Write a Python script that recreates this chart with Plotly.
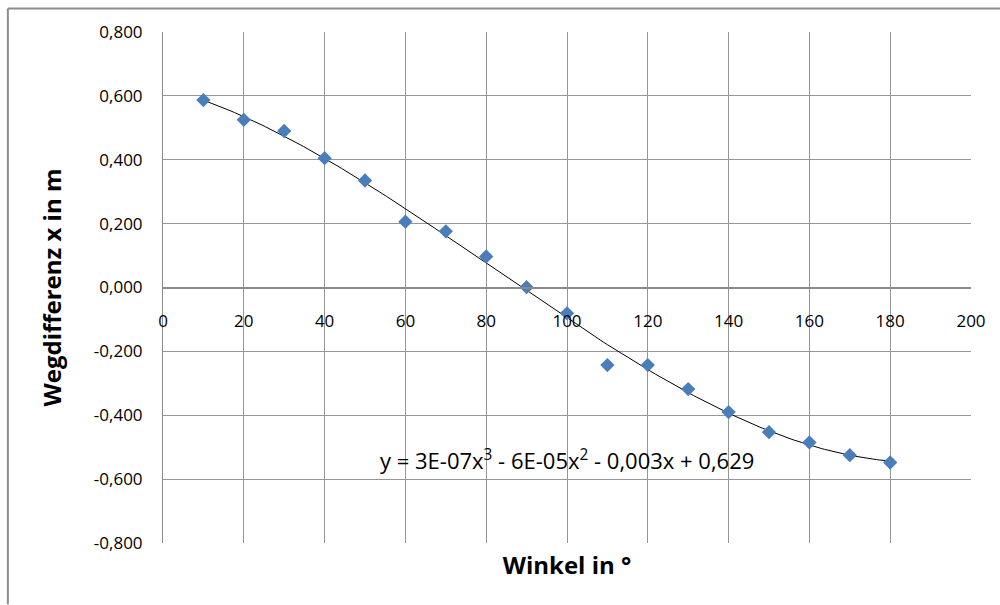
import numpy as np
import plotly.graph_objects as go

# Data
angles = [10, 20, 30, 40, 50, 60, 70, 80, 90, 100, 110, 120, 130, 140, 150, 160, 170, 180]
path_diff = [0.587, 0.525, 0.490, 0.405, 0.335, 0.206, 0.176, 0.097, 0.001, -0.081,
             -0.243, -0.243, -0.318, -0.390, -0.453, -0.485, -0.525, -0.548]

x_ticks = [0, 20, 40, 60, 80, 100, 120, 140, 160, 180, 200]
y_ticks = [0.8, 0.6, 0.4, 0.2, 0.0, -0.2, -0.4, -0.6, -0.8]
y_tick_labels = ["0,800", "0,600", "0,400", "0,200", "0,000", "-0,200", "-0,400", "-0,600", "-0,800"]

equation_text = "y = 3E-07x<sup>3</sup> - 6E-05x<sup>2</sup> - 0,003x + 0,629"
x_title = "Winkel in °"
y_title = "Wegdifferenz x in m"

# cubic trendline fitted to the data (as the spreadsheet does)
coef = np.polyfit(angles, path_diff, 3)
fit_x = np.linspace(min(angles), max(angles), 200)
fit_y = np.polyval(coef, fit_x)

GRID = "#969696"
FONT = "Open Sans"

fig = go.Figure()
fig.add_trace(go.Scatter(x=fit_x, y=fit_y, mode="lines",
                         line=dict(color="black", width=1), showlegend=False,
                         hoverinfo="skip"))
fig.add_trace(go.Scatter(x=angles, y=path_diff, mode="markers", xaxis="x2",
                         marker=dict(symbol="diamond", size=11, color="#4A7EBB",
                                     line=dict(width=0)),
                         showlegend=False))

fig.update_layout(
    width=1000, height=605,
    margin=dict(l=163, r=29, t=32, b=62),
    paper_bgcolor="white", plot_bgcolor="white",
    separators=",.",
    font=dict(family=FONT, color="black"),
    xaxis=dict(range=[0, 200], tickvals=x_ticks, showticklabels=False,
               showgrid=True, gridcolor=GRID, gridwidth=1, zeroline=False,
               showline=False, ticks="",
               title=dict(text=f"<b>{x_title}</b>", font=dict(size=24, family=FONT),
                          standoff=14)),
    xaxis2=dict(overlaying="x", matches="x", anchor="free", position=0.5,
                range=[0, 200], tickvals=x_ticks, showgrid=False, zeroline=False,
                showline=True, linecolor="#8a8a8a", linewidth=2, ticks="",
                tickfont=dict(size=17, family=FONT), ticklabelstandoff=18),
    yaxis=dict(range=[-0.8, 0.8], tickvals=y_ticks, ticktext=y_tick_labels,
               showgrid=True, gridcolor=GRID, gridwidth=1, zeroline=False,
               showline=True, linecolor="#8a8a8a", linewidth=1, ticks="",
               tickfont=dict(size=17, family=FONT), ticklabelstandoff=16,
               title=dict(text=f"<b>{y_title}</b>", font=dict(size=24, family=FONT),
                          standoff=25)),
    annotations=[dict(x=100, y=-0.54, xref="x", yref="y", text=equation_text,
                      showarrow=False, xanchor="center", yanchor="middle",
                      font=dict(size=22, family=FONT, color="black"))],
    shapes=[
        dict(type="line", xref="paper", yref="paper", x0=-0.192, x1=1.04,
             y0=1.046, y1=1.046, line=dict(color="#8c8c8c", width=2)),
        dict(type="line", xref="paper", yref="paper", x0=-0.192, x1=-0.192,
             y0=1.046, y1=-0.12, line=dict(color="#8c8c8c", width=2)),
    ],
)

fig.write_html("out.html", config={"displayModeBar": False},
               post_script="document.body.style.margin='0';")
